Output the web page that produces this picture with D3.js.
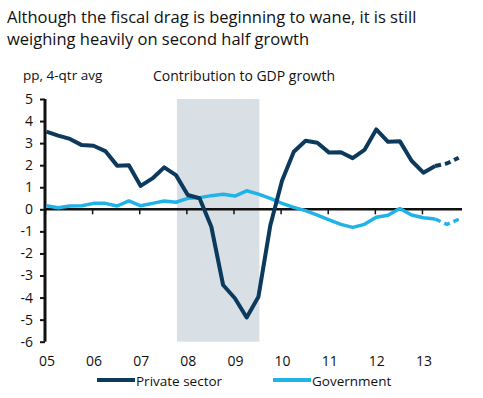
<!DOCTYPE html>
<meta charset="utf-8">
<style>
body { margin: 0; background: #fff; }
svg text { font-family: "Open Sans", sans-serif; fill: #111; }
.title { font-size: 16.5px; }
.axis text { font-size: 14px; }
.legend text { font-size: 13.5px; }
</style>
<svg id="chart" width="483" height="398"></svg>
<script src="https://cdn.jsdelivr.net/npm/d3@7"></script>
<script>

// quarterly, Q1 2005 .. Q4 2013 (last 3 quarters dashed = forecast)
var privateSector = [3.52, 3.34, 3.19, 2.91, 2.88, 2.64, 1.98, 2.0, 1.06, 1.40, 1.90, 1.55,
  0.65, 0.50, -0.79, -3.43, -4.03, -4.90, -3.96, -0.75, 1.30, 2.61, 3.11, 3.02,
  2.57, 2.59, 2.32, 2.69, 3.62, 3.06, 3.09, 2.20, 1.66, 1.96, 2.08, 2.34];
var government = [0.16, 0.07, 0.15, 0.16, 0.27, 0.27, 0.15, 0.38, 0.16, 0.27, 0.38, 0.32,
  0.50, 0.53, 0.62, 0.68, 0.60, 0.84, 0.69, 0.50, 0.27, 0.09, -0.06, -0.26,
  -0.48, -0.68, -0.82, -0.68, -0.36, -0.27, 0.04, -0.26, -0.38, -0.44, -0.68, -0.45];
var forecastFrom = 33;
var recession = [2007.8, 2009.55];
var yearTicks = [2005, 2006, 2007, 2008, 2009, 2010, 2011, 2012, 2013];
var yTicks = [5, 4, 3, 2, 1, 0, -1, -2, -3, -4, -5, -6];
var titleLines = ["Although the fiscal drag is beginning to wane, it is still",
  "weighing heavily on second half growth"];

var navy = "#0b3a5c", sky = "#1fb3e8", shade = "#d8e0e6";

var svg = d3.select("#chart");

var x = d3.scaleLinear().domain([2005, 2013.85]).range([45, 462]);
var y = d3.scaleLinear().domain([-6, 5]).range([341.7, 99]);

function toPoints(arr) {
  return arr.map(function(v, i) { return {t: 2005 + i * 0.25 + 0.03, v: v, i: i}; });
}

// title
svg.selectAll(".title").data(titleLines).enter().append("text")
    .attr("class", "title")
    .attr("x", 7)
    .attr("y", function(d, i) { return 23 + i * 21.5; })
    .text(function(d) { return d; });

svg.append("text").attr("x", 23).attr("y", 80).style("font-size", "13.5px").text("pp, 4-qtr avg");
svg.append("text").attr("x", 153).attr("y", 81).style("font-size", "14px").text("Contribution to GDP growth");

// recession shading
svg.append("rect")
    .attr("x", x(recession[0]))
    .attr("width", x(recession[1]) - x(recession[0]))
    .attr("y", y(5))
    .attr("height", y(-6) - y(5))
    .attr("fill", shade);

// y axis
var yAxis = svg.append("g")
    .attr("class", "axis")
    .attr("transform", "translate(45,0)")
    .call(d3.axisLeft(y).tickValues(yTicks).tickSize(5).tickPadding(7).tickFormat(d3.format("d")));
yAxis.select(".domain").attr("stroke", "#111").attr("stroke-width", 3).attr("d", "M0," + y(5) + "V" + y(-6));
yAxis.selectAll(".tick line").attr("stroke", "#111").attr("stroke-width", 2);
yAxis.selectAll(".tick text").text(function(d) { return d < 0 ? "-" + Math.abs(d) : d; });

// x axis along zero
var xAxis = svg.append("g")
    .attr("class", "axis")
    .attr("transform", "translate(0," + y(0) + ")")
    .call(d3.axisBottom(x).tickValues(yearTicks).tickSize(5).tickFormat(function() { return ""; }));
xAxis.select(".domain").attr("stroke", "#111").attr("stroke-width", 2.5).attr("d", "M45,0H462");
xAxis.selectAll(".tick line").attr("stroke", "#111").attr("stroke-width", 1.5);

svg.append("g").attr("class", "axis")
  .selectAll("text").data(yearTicks).enter().append("text")
    .attr("x", function(d) { return x(d) + 2; })
    .attr("y", 366)
    .attr("text-anchor", "middle")
    .text(function(d) { return d3.format("02d")(d % 100); });

// lines
var line = d3.line().x(function(d) { return x(d.t); }).y(function(d) { return y(d.v); });

function drawSeries(arr, color, width) {
  var pts = toPoints(arr);
  svg.append("path")
      .attr("d", line(pts.slice(0, forecastFrom + 1)))
      .attr("fill", "none").attr("stroke", color).attr("stroke-width", width)
      .attr("stroke-linejoin", "round");
  svg.append("path")
      .attr("d", line(pts.slice(forecastFrom)))
      .attr("fill", "none").attr("stroke", color).attr("stroke-width", width)
      .attr("stroke-dasharray", "6,4");
}
drawSeries(government, sky, 3.5);
drawSeries(privateSector, navy, 4);

// legend
var legend = svg.append("g").attr("class", "legend");
var items = [{name: "Private sector", color: navy, x: 97}, {name: "Government", color: sky, x: 273}];
items.forEach(function(d) {
  legend.append("line").attr("x1", d.x).attr("x2", d.x + 38).attr("y1", 380).attr("y2", 380)
      .attr("stroke", d.color).attr("stroke-width", 4);
  legend.append("text").attr("x", d.x + 39).attr("y", 386).text(d.name);
});

</script>
